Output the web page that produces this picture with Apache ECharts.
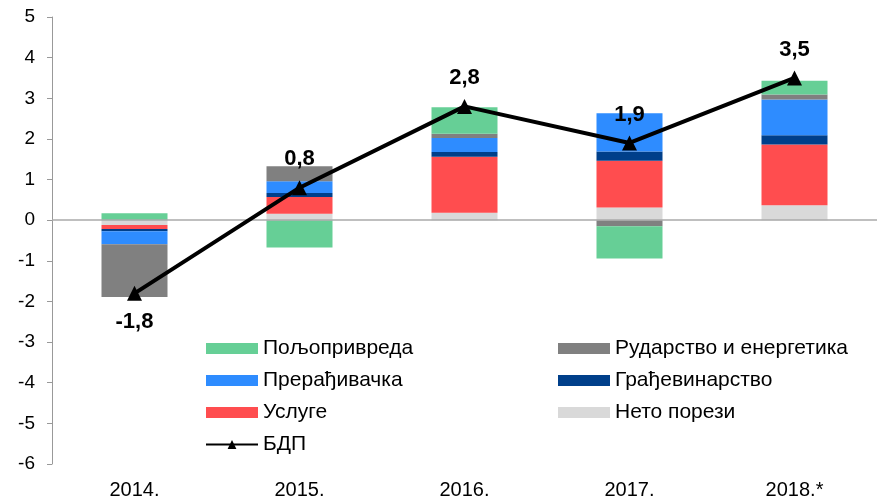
<!DOCTYPE html>
<html>
<head>
<meta charset="utf-8">
<script src="https://cdn.jsdelivr.net/npm/echarts@6/dist/echarts.min.js"></script>
<style>
  html, body { margin: 0; padding: 0; background: #fff; }
  #chart { width: 877px; height: 500px; }
</style>
</head>
<body>
<div id="chart"></div>
<script>
// године
var years = ['2014.', '2015.', '2016.', '2017.', '2018.*'];
// доприноси расту БДП-а, п.п.
var netoPorezi = [-0.12, 0.16, 0.18, 0.31, 0.37];
var usluge = [-0.10, 0.41, 1.38, 1.15, 1.49];
var gradjevinarstvo = [-0.05, 0.10, 0.12, 0.23, 0.23];
var preradjivacka = [-0.32, 0.29, 0.34, 0.94, 0.88];
var rudarstvo = [-1.30, 0.37, 0.11, -0.15, 0.12];
var poljoprivreda = [0.17, -0.67, 0.65, -0.79, 0.34];
var bdp = [-1.8, 0.8, 2.8, 1.9, 3.5];
var yTicks = [-6, -5, -4, -3, -2, -1, 0, 1, 2, 3, 4, 5];

var chart = echarts.init(document.getElementById('chart'));

function barSeries(name, data, color) {
  return {
    name: name,
    type: 'bar',
    stack: 'total',
    barWidth: '40%',
    itemStyle: { color: color },
    data: data
  };
}

var font = 'Liberation Sans, Arial, sans-serif';
var legendText = { fontSize: 21, color: '#000', fontFamily: font };

var option = {
  animation: false,
  grid: { left: 52, right: 0, top: 17, bottom: 35 },
  legend: [
    {
      left: 200, top: 333, orient: 'vertical',
      itemWidth: 52, itemHeight: 11, itemGap: 11,
      textStyle: legendText,
      data: [
        { name: 'Пољопривреда', icon: 'rect' },
        { name: 'Прерађивачка', icon: 'rect' },
        { name: 'Услуге', icon: 'rect' },
        'БДП'
      ]
    },
    {
      left: 553, top: 333, orient: 'vertical',
      itemWidth: 52, itemHeight: 11, itemGap: 11,
      textStyle: legendText,
      data: [
        { name: 'Рударство и енергетика', icon: 'rect' },
        { name: 'Грађевинарство', icon: 'rect' },
        { name: 'Нето порези', icon: 'rect' }
      ]
    }
  ],
  xAxis: {
    type: 'category',
    data: years,
    axisLine: { show: false, onZero: false },
    axisTick: { show: false },
    axisLabel: { fontSize: 20, color: '#000', fontFamily: font, margin: 16 }
  },
  yAxis: {
    type: 'value',
    min: yTicks[0],
    max: yTicks[yTicks.length - 1],
    interval: 1,
    axisLine: { show: true, lineStyle: { color: '#999' } },
    axisTick: { show: true, length: 5, lineStyle: { color: '#999' } },
    splitLine: { show: false },
    axisLabel: { fontSize: 19, color: '#000', fontFamily: font, margin: 17 }
  },
  series: [
    barSeries('Нето порези', netoPorezi, '#D9D9D9'),
    barSeries('Услуге', usluge, '#FF4D4F'),
    barSeries('Грађевинарство', gradjevinarstvo, '#003F8A'),
    barSeries('Прерађивачка', preradjivacka, '#2E8CFF'),
    barSeries('Рударство и енергетика', rudarstvo, '#808080'),
    Object.assign(barSeries('Пољопривреда', poljoprivreda, '#66CF96'), {
      markLine: {
        silent: true,
        symbol: 'none',
        label: { show: false },
        lineStyle: { color: '#aaa', type: 'solid', width: 1.5 },
        data: [{ yAxis: 0 }]
      }
    }),
    {
      name: 'БДП',
      type: 'line',
      z: 5,
      symbol: 'triangle',
      symbolSize: 15,
      itemStyle: { color: '#000' },
      lineStyle: { color: '#000', width: 4 },
      label: {
        show: true,
        position: 'top',
        distance: 10,
        fontSize: 22,
        fontWeight: 'bold',
        color: '#000',
        fontFamily: font,
        formatter: function (p) { return String(p.value).replace('.', ','); }
      },
      data: bdp.map(function (v, i) {
        return i === 0 ? { value: v, label: { position: 'bottom', distance: 10 } } : v;
      })
    }
  ]
};

chart.setOption(option);
</script>
</body>
</html>
